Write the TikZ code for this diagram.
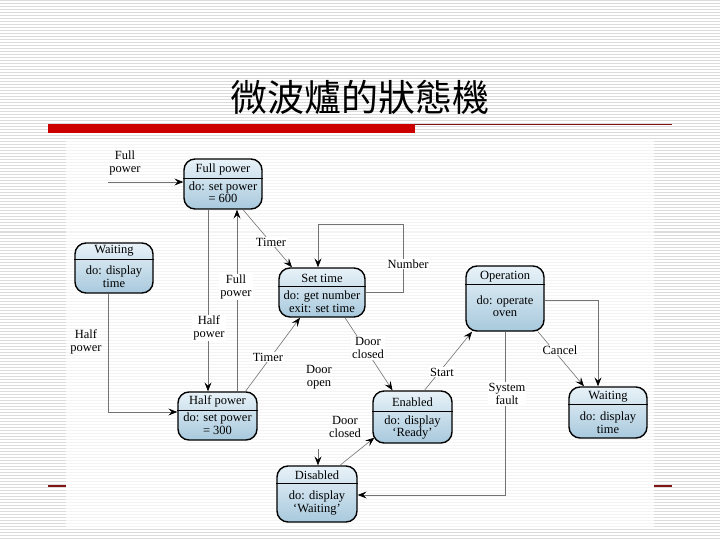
\documentclass[tikz,border=0pt]{standalone}
\usepackage{fontspec}
\setmainfont{Liberation Serif}
\newfontfamily\cjk{Noto Sans CJK TC}
\usetikzlibrary{arrows.meta}
\definecolor{stTop}{RGB}{232,242,248}
\definecolor{stBot}{RGB}{168,201,221}
\definecolor{barred}{RGB}{204,0,0}
\definecolor{darkred}{RGB}{130,20,20}
\tikzset{
  state/.style={draw, line width=1.4pt, rounded corners=11pt, top color=stTop, bottom color=stBot, inner sep=0pt},
  divline/.style={line width=1pt},
  txt/.style={font=\fontsize{12.5}{12.5}\selectfont, align=center, inner sep=0pt},
  lbl/.style={font=\fontsize{12.5}{13.5}\selectfont, align=center, inner sep=1pt, fill=white},
  freelbl/.style={font=\fontsize{12.5}{13.5}\selectfont, align=center, inner sep=1pt},
  conn/.style={draw=black!55, line width=0.6pt, -{Stealth[length=9pt,width=7pt,inset=3.5pt,color=black]}},
  stripe/.style={draw=black!14, line width=1pt},
}
\begin{document}
\begin{tikzpicture}[x=1pt,y=-1pt]
\useasboundingbox (0,0) rectangle (720,540);
% background stripes
\fill[white] (0,0) rectangle (720,540);
\foreach \yy in {1,4,...,539} { \draw[stripe] (0,\yy) -- (720,\yy); }
% title
\node[font=\cjk\fontsize{37}{37}\selectfont, inner sep=0pt] (title) at (360,97) {微波爐的狀態機};
\fill[barred] (48,124) rectangle (415,133);
\draw[darkred, line width=0.8pt] (415,124.4) -- (672,124.4);
\draw[darkred, line width=1.2pt] (48,486) -- (66,486);
\draw[darkred, line width=1.2pt] (654,486) -- (672,486);
% diagram area
\fill[white, opacity=0.7] (66,140) rectangle (654,529);

% states
\node[state, minimum width=78, minimum height=50] (full) at (223,184) {};
\draw[divline] (full.west |- 0,179) -- (full.east |- 0,179);
\node[txt] at (223,169.5) {Full power};
\node[txt] at (223,192) {do: set power\\= 600};

\node[state, minimum width=78, minimum height=50] (waitL) at (114,268) {};
\draw[divline] (waitL.west |- 0,259) -- (waitL.east |- 0,259);
\node[txt] at (114,251) {Waiting};
\node[txt] at (114,276.5) {do: display\\time};

\node[state, minimum width=86, minimum height=49] (settime) at (322,292.5) {};
\draw[divline] (settime.west |- 0,286) -- (settime.east |- 0,286);
\node[txt] at (322,278) {Set time};
\node[txt] at (322,302) {do: get number\\exit: set time};

\node[state, minimum width=78, minimum height=65] (oper) at (505,298.5) {};
\draw[divline] (oper.west |- 0,284) -- (oper.east |- 0,284);
\node[txt] at (505,276.5) {Operation};
\node[txt] at (505,306) {do: operate\\oven};

\node[state, minimum width=79, minimum height=52] (enab) at (412.5,417) {};
\draw[divline] (enab.west |- 0,411) -- (enab.east |- 0,411);
\node[txt] at (412.5,402) {Enabled};
\node[txt] at (412.5,427.5) {do: display\\`Ready'};

\node[state, minimum width=78, minimum height=51] (waitR) at (608,412.5) {};
\draw[divline] (waitR.west |- 0,404) -- (waitR.east |- 0,404);
\node[txt] at (608,397) {Waiting};
\node[txt] at (608,422.5) {do: display\\time};

\node[state, minimum width=79, minimum height=48] (half) at (217.5,416) {};
\draw[divline] (half.west |- 0,410) -- (half.east |- 0,410);
\node[txt] at (217.5,401.5) {Half power};
\node[txt] at (217.5,423.5) {do: set power\\= 300};

\node[state, minimum width=80, minimum height=56] (disab) at (317,494) {};
\draw[divline] (disab.west |- 0,483) -- (disab.east |- 0,483);
\node[txt] at (317,475) {Disabled};
\node[txt] at (317,503) {do: display\\`Waiting'};

% transitions
\coordinate (fpin) at (108,182);
\draw[conn] (fpin) -- (fpin -| full.west);
\node[freelbl] (lfp) at (125,163) {Full\\power};

\draw[conn] (full.south -| 208,0) -- (half.north -| 208,0);
\node[lbl] (lhp) at (209,328) {Half\\power};

\draw[conn] (half.north -| 237,0) -- (full.south -| 237,0);
\node[lbl] (lfp2) at (236,287) {Full\\power};

\draw[conn] ([xshift=20pt]full.south) -- ([xshift=-30pt]settime.north);
\node[lbl] (lt1) at (271,242) {Timer};

\draw[conn] (settime.east |- 0,292) -- (403,292) -- (403,224) -- (318,224) -- ([xshift=-4pt]settime.north);
\node[lbl] (lnum) at (408,264) {Number};

\draw[conn] ([xshift=28pt]half.north) -- ([xshift=-22pt]settime.south);
\node[lbl] (lt2) at (268,357) {Timer};

\draw[conn] ([xshift=23pt]settime.south) -- ([xshift=-20pt]enab.north);
\node[lbl] (ldc1) at (368,348) {Door\\closed};

\draw[conn] ([xshift=12pt]enab.north) -- ([xshift=-33pt]oper.south);
\node[lbl] (lst) at (442,372) {Start};

\draw[conn] ([xshift=33pt]oper.south) -- ([xshift=-24pt]waitR.north);
\node[lbl] (lca) at (560,350) {Cancel};

\draw[conn] (oper.east |- 0,300) -| ([xshift=-10pt]waitR.north);

\draw[conn] (oper.south) |- (disab.east |- 0,495);
\node[lbl] (lsf) at (507,394) {System\\fault};

\coordinate (dop) at (318,449);
\draw[conn] (dop) -- (disab.north -| dop);
\node[freelbl] (ldo) at (319,377) {Door\\open};

\draw[conn] ([xshift=23pt]disab.north) -- ([xshift=2pt,yshift=6pt]enab.south west);
\node[freelbl] (ldc2) at (345,427) {Door\\closed};

\draw[conn] (waitL.south -| 108,0) |- (half.west |- 0,412);
\node[freelbl] (lhp2) at (86,342) {Half\\power};
\end{tikzpicture}
\end{document}
